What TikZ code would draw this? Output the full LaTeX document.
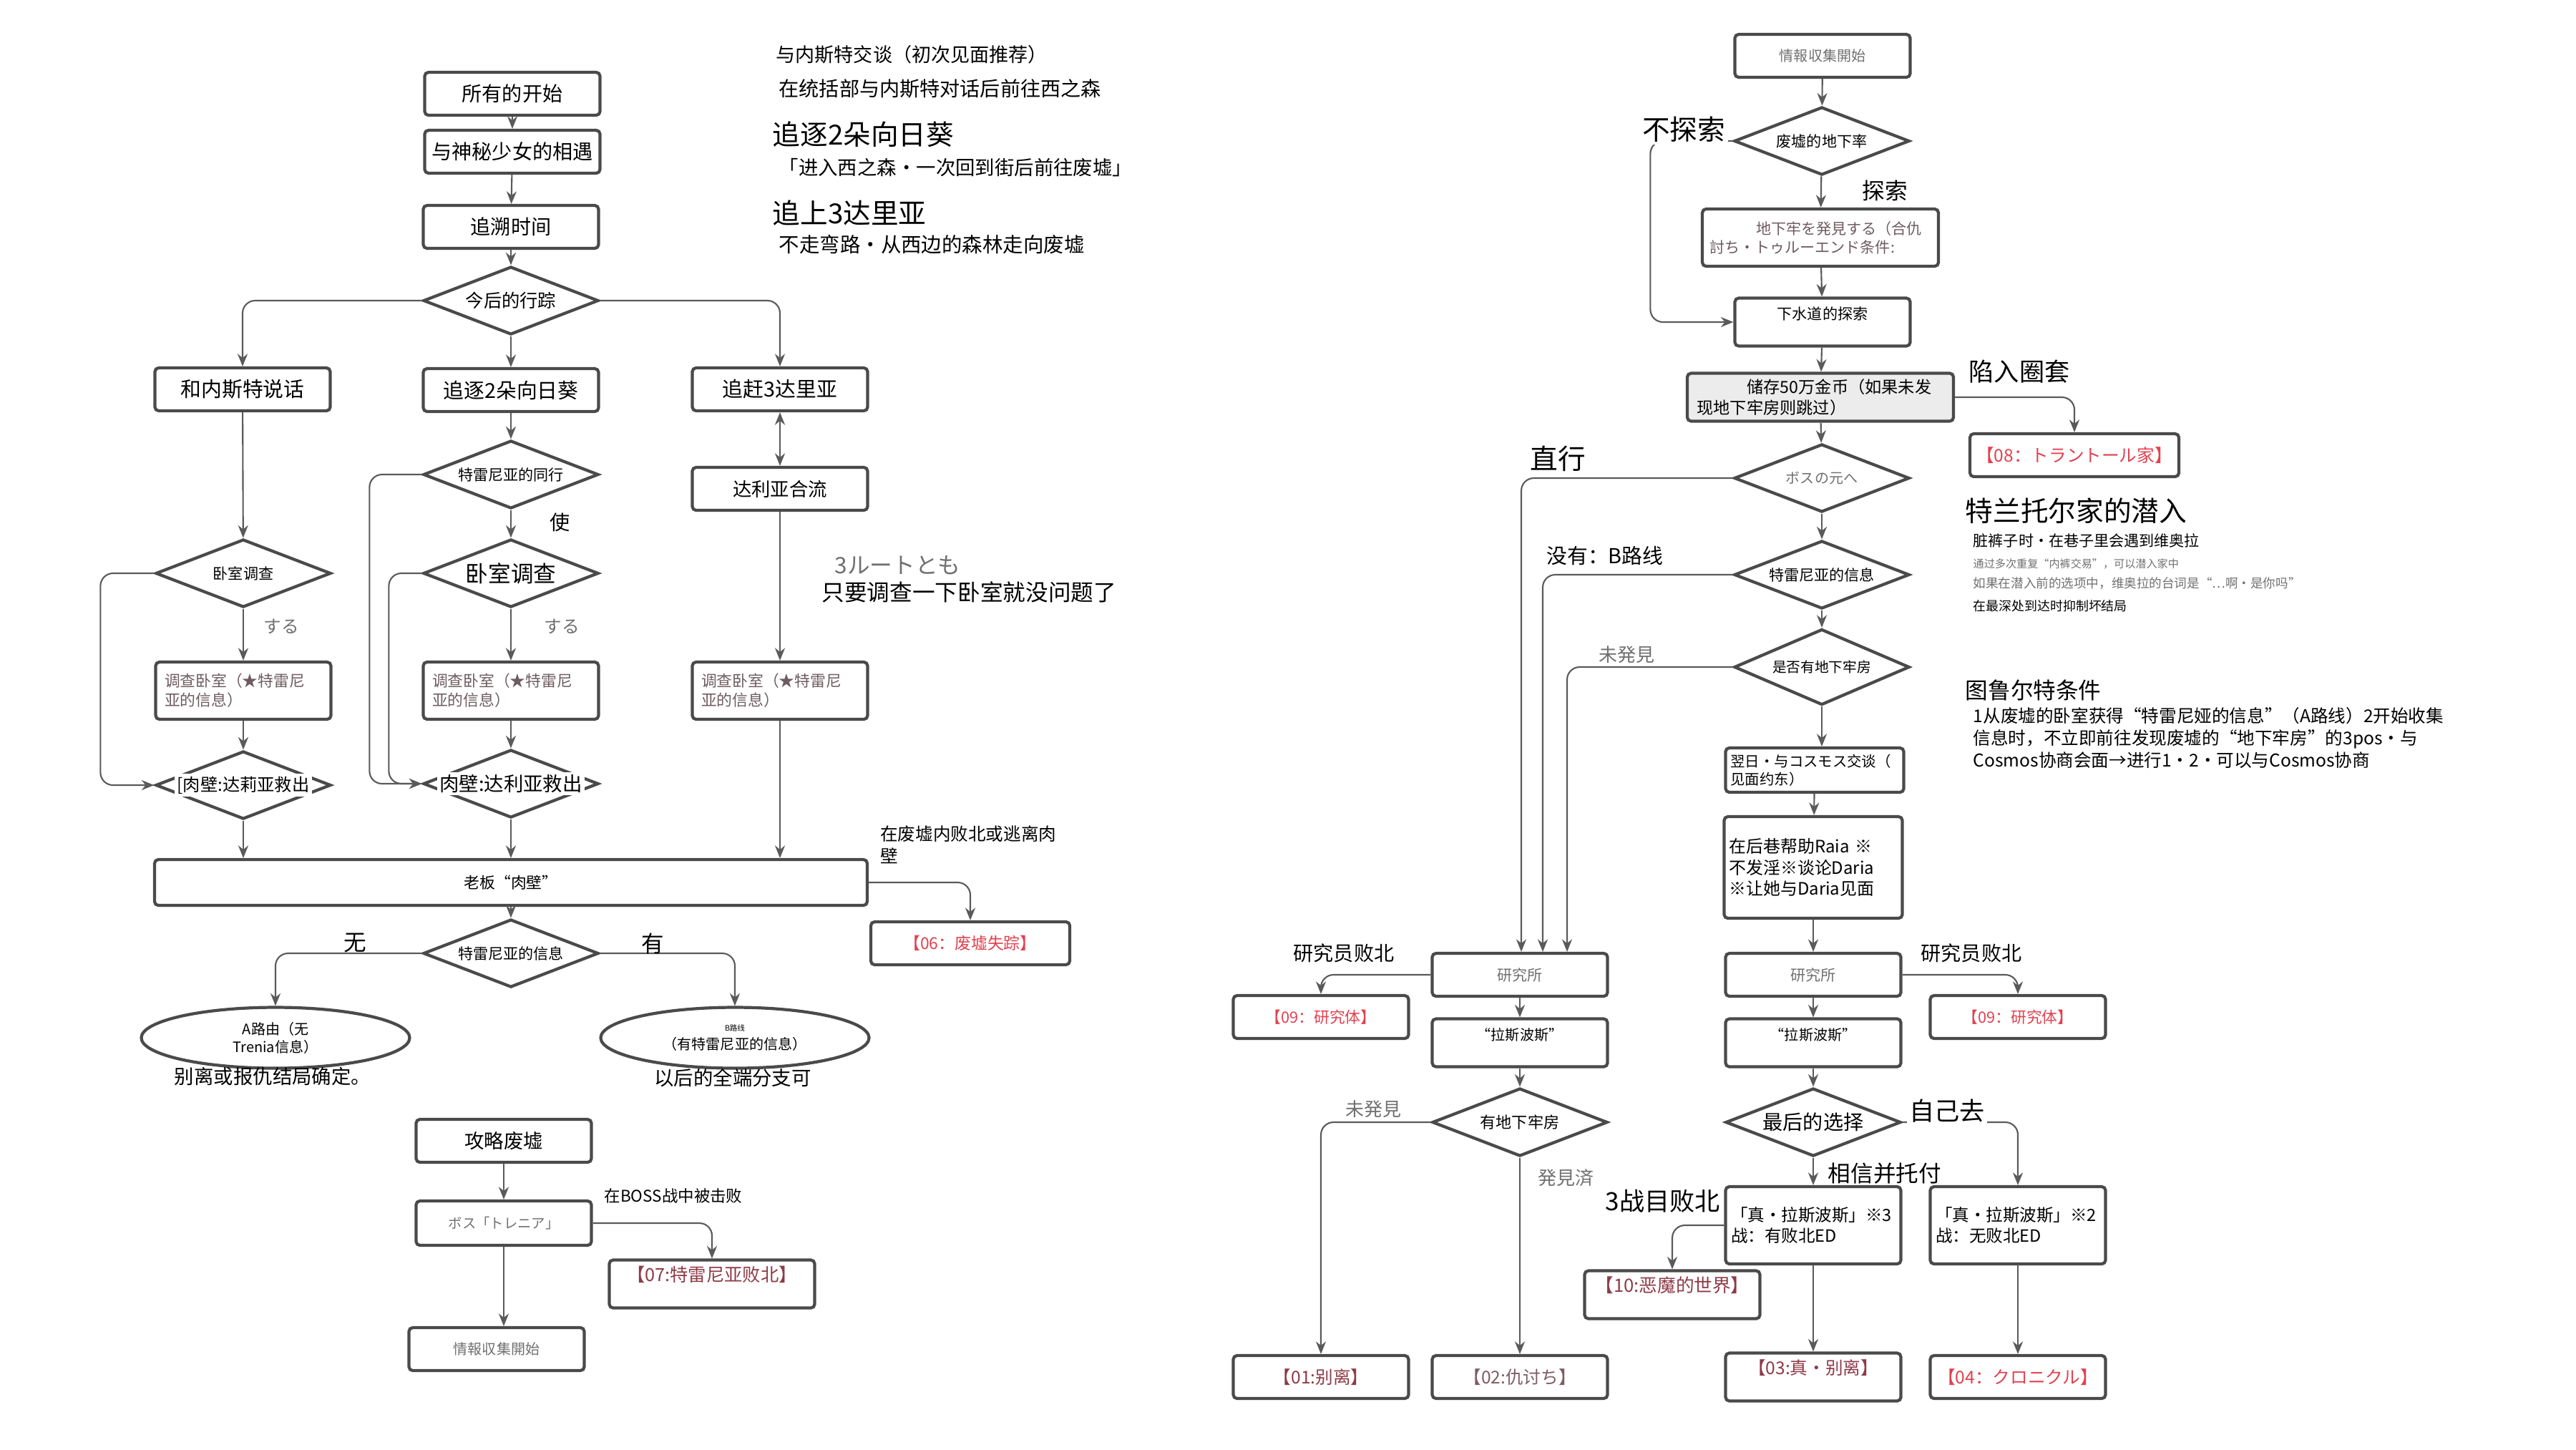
\documentclass[tikz,border=0pt]{standalone}
\usepackage{fontspec}
\setmainfont{Noto Sans CJK SC}
\usetikzlibrary{arrows.meta, positioning, shapes.geometric}
\definecolor{frame}{HTML}{4A4A4A}
\definecolor{link}{HTML}{5A5A5A}
\definecolor{mutedText}{HTML}{707070}
\definecolor{infoText}{HTML}{6E5C60}
\definecolor{endRed}{HTML}{E2414F}
\definecolor{endMaroon}{HTML}{8E3B47}
\definecolor{endDusk}{HTML}{7D5D65}
\definecolor{saveFill}{HTML}{ECECEC}
\newcommand{\fsz}[1]{\fontsize{#1}{\fpeval{1.25*#1}}\selectfont}
\tikzset{
    arrow/.style={-{Stealth[length=5pt,width=4pt]}, line width=0.6pt, draw=link, rounded corners=5pt},
    twoway/.style={{Stealth[length=5pt,width=4pt]}-{Stealth[length=5pt,width=4pt]}, line width=0.6pt, draw=link},
}

\begin{document}
\begin{tikzpicture}[
        box/.style={
            rectangle, rounded corners=1.5pt, draw=frame, line width=1.2pt,
            fill=white, minimum width=2.45cm, minimum height=0.6cm,
            inner sep=2pt, align=center, font=\fsz{8}
        },
        infobox/.style={box, text width=2.2cm, align=left, font=\fsz{6.2}, text=infoText},
        ending/.style={box, text=#1, font=\fsz{7}},
        choice/.style={
            diamond, draw=frame, line width=1.2pt, fill=white, aspect=2.6,
            inner sep=0pt, minimum width=2.45cm, minimum height=0.95cm, font=\fsz{6}
        },
        route/.style={
            ellipse, draw=frame, line width=1.2pt, fill=white, minimum width=3.75cm,
            minimum height=0.85cm, inner sep=0pt, align=center, font=\fsz{5.7}
        },
        tag/.style={font=\fsz{#1}, inner sep=1pt},
        note/.style={anchor=west, inner sep=0pt, align=left, font=\fsz{#1}},
        raised/.style={text height=1.2ex, text depth=#1},
    ]

    \fill[white] (0,0) rectangle (36,-20.25);
    \useasboundingbox (0,0) rectangle (36,-20.25);

    % ---- Left chart: common route ----
    \node[box] (start) at (7.16,-1.31) {所有的开始};
    \node[box] (meet) at (7.16,-2.12) {与神秘少女的相遇};
    \node[box] (rewind) at (7.14,-3.17) {追溯时间};
    \node[choice, font=\fsz{7.2}] (whereto) at (7.14,-4.20) {今后的行踪};

    % ---- Three branches ----
    \node[box, font=\fsz{8.2}] (talk) at (3.39,-5.44) {和内斯特说话};
    \node[box, font=\fsz{8.2}] (chase2) at (7.14,-5.45) {追逐2朵向日葵};
    \node[box, font=\fsz{8.2}] (chase3) at (10.90,-5.44) {追赶3达里亚};
    \node[choice] (accomp) at (7.14,-6.63) {特雷尼亚的同行};
    \node[box, font=\fsz{7.5}] (merge) at (10.90,-6.83) {达利亚合流};
    \node[choice] (bedL) at (3.40,-8.01) {卧室调查};
    \node[choice, font=\fsz{9}] (bedM) at (7.14,-8.01) {卧室调查};

    \node[infobox, minimum height=0.8cm] (invL) at (3.40,-9.65) {调查卧室（★特雷尼\\亚的信息）};
    \node[infobox, minimum height=0.8cm] (invM) at (7.14,-9.65) {调查卧室（★特雷尼\\亚的信息）};
    \node[infobox, minimum height=0.8cm] (invR) at (10.90,-9.65) {调查卧室（★特雷尼\\亚的信息）};

    \node[choice, label={[tag=6.9, fill=white]center:{[肉壁:达莉亚救出}}] (wallL) at (3.40,-10.97) {};
    \node[choice, label={[tag=7.8, fill=white]center:{肉壁:达利亚救出}}] (wallM) at (7.14,-10.95) {};

    % ---- Boss and routes ----
    \node[box, minimum width=9.96cm, minimum height=0.64cm, font=\fsz{6.2}] (bossWall) at (7.14,-12.33) {老板“肉壁”};
    \node[ending=endRed, font=\fsz{6.5}, minimum width=2.78cm] (lost) at (13.56,-13.18) {【06：废墟失踪】};
    \node[choice] (infoL) at (7.14,-13.32) {特雷尼亚的信息};
    \node[route] (routeA) at (3.85,-14.50) {A路由（无\\Trenia信息）};
    \node[route] (routeB) at (10.27,-14.50) {{\fsz{3}B路线}\\（有特雷尼亚的信息）};
    \node[tag=7.8] (resultA) at (3.81,-15.04) {别离或报仇结局确定。};
    \node[tag=7.8] (resultB) at (10.24,-15.06) {以后的全端分支可};

    \node[box, font=\fsz{7.8}] (ruins) at (7.04,-15.94) {攻略废墟};
    \node[box, font=\fsz{5.5}, text=mutedText, minimum height=0.62cm] (trenia) at (7.04,-17.09) {ボス「トレニア」};
    \node[ending=endMaroon, font=\fsz{7.2}, minimum width=2.87cm, minimum height=0.67cm, raised=0.3cm] (lose07) at (9.95,-17.94) {【07:特雷尼亚败北】};
    \node[box, font=\fsz{5.7}, text=mutedText] (gather) at (6.94,-18.85) {情報収集開始};

    % ---- Right chart ----
    \node[box, font=\fsz{5.7}, text=mutedText] (gather2) at (25.47,-0.78) {情報収集開始};
    \node[choice] (cellar) at (25.46,-1.97) {废墟的地下率};
    \node[infobox, text width=3.1cm, minimum width=3.30cm, minimum height=0.80cm, font=\fsz{6}] (dungeon) at (25.44,-3.32) {\hspace*{0.65cm}地下牢を発見する（合仇\\討ち・トゥルーエンド条件:};
    \node[box, font=\fsz{6}, raised=0.3cm] (sewer) at (25.47,-4.50) {下水道的探索};
    \node[box, fill=saveFill, text width=3.45cm, align=left, minimum width=3.72cm, minimum height=0.67cm, font=\fsz{6.6}] (savecoin) at (25.44,-5.55) {\hspace*{0.7cm}储存50万金币（如果未发\\现地下牢房则跳过）};
    \node[ending=endRed, minimum width=2.92cm] (trap) at (28.99,-6.36) {【08：トラントール家】};
    \node[choice, font=\fsz{5.7}, text=mutedText] (toBoss) at (25.46,-6.68) {ボスの元へ};
    \node[choice] (treniaR) at (25.46,-8.03) {特雷尼亚的信息};
    \node[choice, font=\fsz{5.6}, minimum height=1.06cm] (cellQ) at (25.46,-9.32) {是否有地下牢房};
    \node[box, text width=2.35cm, align=left, font=\fsz{5.8}, minimum height=0.62cm] (cosmos) at (25.36,-10.76) {翌日・与コスモス交谈（\\见面约东）};
    \node[box, text width=2.35cm, align=left, font=\fsz{6.8}, minimum height=1.42cm] (raia) at (25.34,-12.12) {在后巷帮助Raia ※\\不发淫※谈论Daria\\※让她与Daria见面};

    % ---- Research lab, left ----
    \node[box, font=\fsz{6}, text=mutedText] (labL) at (21.24,-13.62) {研究所};
    \node[ending=endRed, font=\fsz{6.2}] (bodyL) at (18.46,-14.21) {【09：研究体】};
    \node[box, font=\fsz{5.7}, raised=0.3cm, minimum height=0.62cm] (lasL) at (21.24,-14.57) {“拉斯波斯”};
    \node[choice, font=\fsz{6.3}] (cellL) at (21.24,-15.68) {有地下牢房};
    \node[ending=endMaroon] (end01) at (18.46,-19.24) {【01:别离】};
    \node[ending=endDusk] (end02) at (21.24,-19.24) {【02:仇讨ち】};

    % ---- Research lab, right ----
    \node[box, font=\fsz{6}, text=mutedText] (labR) at (25.34,-13.62) {研究所};
    \node[ending=endRed, font=\fsz{6.2}] (bodyR) at (28.20,-14.21) {【09：研究体】};
    \node[box, font=\fsz{5.7}, raised=0.3cm, minimum height=0.62cm] (lasR) at (25.34,-14.57) {“拉斯波斯”};
    \node[choice, font=\fsz{8}] (finale) at (25.34,-15.68) {最后的选择};
    \node[box, text width=2.3cm, align=left, font=\fsz{6.7}, minimum height=1.08cm] (true3) at (25.34,-17.12) {「真・拉斯波斯」※3\\战：有败北ED};
    \node[box, text width=2.3cm, align=left, font=\fsz{6.7}, minimum height=1.08cm] (true2) at (28.20,-17.12) {「真・拉斯波斯」※2\\战：无败北ED};
    \node[ending=endMaroon, font=\fsz{7.3}, minimum height=0.64cm, raised=0.3cm] (end10) at (23.37,-18.09) {【10:恶魔的世界】};
    \node[ending=endMaroon, raised=0.3cm] (end03) at (25.34,-19.24) {【03:真・别离】};
    \node[ending=endRed] (end04) at (28.20,-19.24) {【04：クロニクル】};

    % ---- Edges: left chart ----
    \draw[arrow] (start) -- (meet);
    \draw[arrow] (meet) -- (rewind);
    \draw[arrow] (rewind) -- (whereto);
    \draw[arrow] (whereto.west) -| (talk.north);
    \draw[arrow] (whereto) -- (chase2);
    \draw[arrow] (whereto.east) -| (chase3.north);
    \draw[arrow] (talk) -- (bedL);
    \draw[arrow] (chase2) -- (accomp);
    \draw[arrow] (accomp) -- (bedM);
    \draw[twoway] (chase3) -- (merge);
    \draw[arrow] (merge) -- (invR);
    \draw[arrow] (bedL) -- (invL);
    \draw[arrow] (bedM) -- (invM);
    \draw[arrow] (invL) -- (wallL);
    \draw[arrow] (invM) -- (wallM);
    \draw[arrow] (wallL) -- (wallL |- bossWall.north);
    \draw[arrow] (wallM) -- (wallM |- bossWall.north);
    \draw[arrow] (invR) -- (invR |- bossWall.north);

    % Loops back to the wall
    \draw[arrow] (bedL.west) -- ++(-0.75,0) |- (wallL.west);
    \draw[arrow] (accomp.west) -- ++(-0.73,0) |- (wallM.west);
    \draw[arrow] (bedM.west) -- ++(-0.46,0) |- (wallM.west);

    \draw[arrow] (bossWall.east) -| (lost.north);
    \draw[arrow] (bossWall) -- (infoL);
    \draw[arrow] (infoL.west) -| (routeA.north);
    \draw[arrow] (infoL.east) -| (routeB.north);
    \draw[arrow] (ruins) -- (trenia);
    \draw[arrow] (trenia.east) -| (lose07.north);
    \draw[arrow] (trenia.south) -- (trenia.south |- gather.north);

    % ---- Edges: right chart ----
    \draw[arrow] (gather2) -- (cellar);
    \draw[arrow] (cellar) -- (dungeon);
    \draw[arrow] (cellar.west) -- ++(-1.15,0) |- (sewer.west);
    \draw[arrow] (dungeon) -- (sewer);
    \draw[arrow] (sewer) -- (savecoin);
    \draw[arrow] (savecoin.east) -| (trap.north);
    \draw[arrow] (savecoin) -- (toBoss);
    \draw[arrow] (toBoss) -- (treniaR);
    \draw[arrow] (treniaR) -- (cellQ);
    \draw[arrow] (cellQ.south) -- (cellQ.south |- cosmos.north);
    \draw[arrow] (cosmos) -- (raia);
    \draw[arrow] (raia) -- (labR);
    \draw[arrow] (toBoss.west) -| ([xshift=0.02cm]labL.north);
    \draw[arrow] (treniaR.west) -| ([xshift=0.32cm]labL.north);
    \draw[arrow] (cellQ.west) -| ([xshift=0.66cm]labL.north);

    \draw[arrow] (labL.west) -| (bodyL.north);
    \draw[arrow] (labL) -- (lasL);
    \draw[arrow] (lasL) -- (cellL);
    \draw[arrow] (cellL.west) -| (end01.north);
    \draw[arrow] (cellL) -- (end02);

    \draw[arrow] (labR.east) -| (bodyR.north);
    \draw[arrow] (labR) -- (lasR);
    \draw[arrow] (lasR) -- (finale);
    \draw[arrow] (finale) -- (true3);
    \draw[arrow] (finale.east) -| (true2.north);
    \draw[arrow] (true3.west) -| (end10.north);
    \draw[arrow] (true3) -- (end03);
    \draw[arrow] (true2) -- (end04);

    % ---- Edge labels: left ----
    \node[tag=8] (useTag) at (7.83,-7.30) {使};
    \node[tag=7, text=mutedText] (doL) at (3.93,-8.75) {する};
    \node[tag=7, text=mutedText] (doM) at (7.85,-8.75) {する};
    \node[tag=9] (noTag) at (4.96,-13.18) {无};
    \node[tag=9] (yesTag) at (9.12,-13.18) {有};
    \node[tag=7, anchor=west, align=left] (escTag) at (12.26,-11.80) {在废墟内败北或逃离肉\\壁};
    \node[tag=6.4] (bossTag) at (9.41,-16.71) {在BOSS战中被击败};

    % ---- Notes: left ----
    \node[note=7.7] (noteA1) at (10.84,-0.76) {与内斯特交谈（初次见面推荐）};
    \node[note=8] (noteA2) at (10.88,-1.24) {在统括部与内斯特对话后前往西之森};
    \node[note=11] (noteB1) at (10.79,-1.88) {追逐2朵向日葵};
    \node[note=7.8] (noteB2) at (10.88,-2.34) {「进入西之森・一次回到街后前往废墟」};
    \node[note=11] (noteC1) at (10.79,-2.98) {追上3达里亚};
    \node[note=8.1] (noteC2) at (10.88,-3.42) {不走弯路・从西边的森林走向废墟};
    \node[note=9, text=mutedText] (noteD1) at (11.66,-7.90) {3ルートとも};
    \node[note=9] (noteD2) at (11.48,-8.27) {只要调查一下卧室就没问题了};

    % ---- Edge labels: right ----
    \node[tag=11, fill=white] (skipTag) at (23.53,-1.81) {不探索};
    \node[tag=9] (exploreTag) at (26.34,-2.66) {探索};
    \node[tag=10] (trapTag) at (28.22,-5.19) {陷入圈套};
    \node[tag=11] (straightTag) at (21.77,-6.41) {直行};
    \node[tag=8.2] (routeBTag) at (22.43,-7.76) {没有：B路线};
    \node[tag=7.4, text=mutedText] (unseenR) at (22.73,-9.15) {未発見};
    \node[tag=8] (labLossL) at (18.78,-13.32) {研究员败北};
    \node[tag=8] (labLossR) at (27.55,-13.32) {研究员败北};
    \node[tag=7.4, text=mutedText] (unseenL) at (19.19,-15.50) {未発見};
    \node[tag=7.4, text=mutedText] (seenL) at (21.88,-16.46) {発見済};
    \node[tag=10, fill=white] (aloneTag) at (27.21,-15.52) {自己去};
    \node[tag=9] (trustTag) at (26.34,-16.39) {相信并托付};
    \node[tag=10] (thirdTag) at (23.24,-16.78) {3战目败北};

    % ---- Notes: right ----
    \node[note=11] (noteE1) at (27.46,-7.14) {特兰托尔家的潜入};
    \node[note=6] (noteE2) at (27.57,-7.55) {脏裤子时・在巷子里会遇到维奥拉};
    \node[note=4.3, text=mutedText] (noteE3) at (27.57,-7.88) {通过多次重复“内裤交易”，可以潜入家中};
    \node[note=5, text=mutedText] (noteE4) at (27.57,-8.15) {如果在潜入前的选项中，维奥拉的台词是“…啊・是你吗”};
    \node[note=5.1] (noteE5) at (27.57,-8.47) {在最深处到达时抑制坏结局};
    \node[note=9] (noteF1) at (27.46,-9.64) {图鲁尔特条件};
    \node[note=7, anchor=north west] (noteF2) at (27.57,-9.88) {1从废墟的卧室获得“特雷尼娅的信息”（A路线）2开始收集\\信息时，不立即前往发现废墟的“地下牢房”的3pos・与\\Cosmos协商会面→进行1・2・可以与Cosmos协商};

\end{tikzpicture}
\end{document}
